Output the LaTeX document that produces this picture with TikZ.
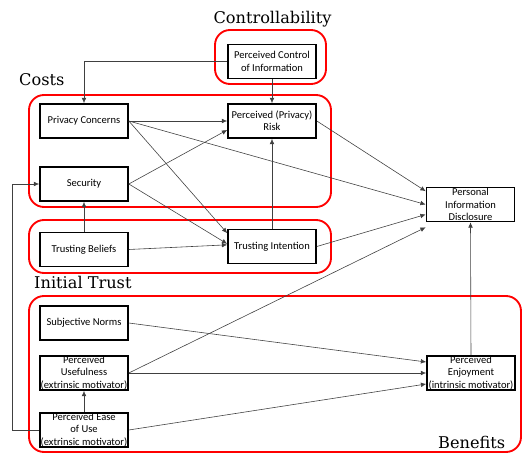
\documentclass[tikz,border=0pt]{standalone}
\usepackage{fontspec}
\setmainfont{Carlito}
\newfontfamily\titlefont{DejaVu Serif}
\usetikzlibrary{arrows.meta}
\tikzset{
  box/.style={draw, fill=white, line width=1.4pt, minimum width=2.64cm,
    minimum height=1.02cm, inner sep=0pt, align=center,
    font=\fontsize{9}{10.5}\selectfont},
  area/.style={draw=red, line width=1.6pt, rounded corners=0.45cm},
  areatitle/.style={font=\titlefont\fontsize{13.8}{14}\selectfont, inner sep=0pt},
  link/.style={-{Latex[length=4.5pt,width=4pt]}, draw=black!75, line width=0.5pt}
}
\begin{document}
\begin{tikzpicture}[x=0.03cm,y=-0.03cm]
  \useasboundingbox (0,0) rectangle (522,454);

  % Bereiche
  \draw[area] (215,30) rectangle (326,84);
  \draw[area] (29,95) rectangle (331,207);
  \draw[area] (29,220) rectangle (331,273);
  \draw[area] (29,296) rectangle (521,452);

  \node[areatitle, anchor=base] (tctrl) at (272.5,24) {Controllability};
  \node[areatitle, anchor=base west] (tcosts) at (19,86) {Costs};
  \node[areatitle, anchor=base west] (ttrust) at (34,289) {Initial Trust};
  \node[areatitle, anchor=base west] (tben) at (438,449) {Benefits};

  % Konstrukte
  \node[box] (ctrl) at (272,61.5) {Perceived Control\\of Information};
  \node[box] (pc) at (84,121) {Privacy Concerns};
  \node[box] (risk) at (272,121) {Perceived (Privacy)\\Risk};
  \node[box] (sec) at (84,184) {Security};
  \node[box] (tb) at (84,249.5) {Trusting Beliefs};
  \node[box] (ti) at (272,246.5) {Trusting Intention};
  \node[box] (disc) at (470.5,204.5) {Personal\\Information\\Disclosure};
  \node[box] (sn) at (84,323) {Subjective Norms};
  \node[box] (use) at (84,373) {Perceived\\Usefulness\\(extrinsic motivator)};
  \node[box] (ease) at (84,430) {Perceived Ease\\of Use\\(extrinsic motivator)};
  \node[box] (enj) at (471,373) {Perceived\\Enjoyment\\(intrinsic motivator)};

  % Pfade
  \draw[link] (ctrl.west) -| (pc.north);
  \draw[link] (ctrl.south) -- (risk.north);
  \draw[link] (pc.east) -- (risk.west);
  \draw[link] (pc.east) -- ([yshift=0.4cm]ti.west);
  \draw[link] (pc.east) -- (disc.west);
  \draw[link] (sec.east) -- ([yshift=-0.27cm]risk.west);
  \draw[link] (sec.east) -- ([yshift=0.08cm]ti.west);
  \draw[link] (tb.north) -- (sec.south);
  \draw[link] (tb.east) -- ([yshift=0.05cm]ti.west);
  \draw[link] (ti.north) -- (risk.south);
  \draw[link] (risk.east) -- ([yshift=0.4cm]disc.west);
  \draw[link] (ti.east) -- ([yshift=-0.3cm]disc.west);
  \draw[link] (use.east) -- ([yshift=-0.15cm]disc.south west);
  \draw[link] (sn.east) -- ([yshift=0.33cm]enj.west);
  \draw[link] (use.east) -- (enj.west);
  \draw[link] (ease.east) -- ([yshift=-0.33cm]enj.west);
  \draw[link] (ease.north) -- (use.south);
  \draw[link] (enj.north) -- (disc.south);
  \draw[link] (ease.west) -- ++(-27,0) |- (sec.west);
\end{tikzpicture}
\end{document}
